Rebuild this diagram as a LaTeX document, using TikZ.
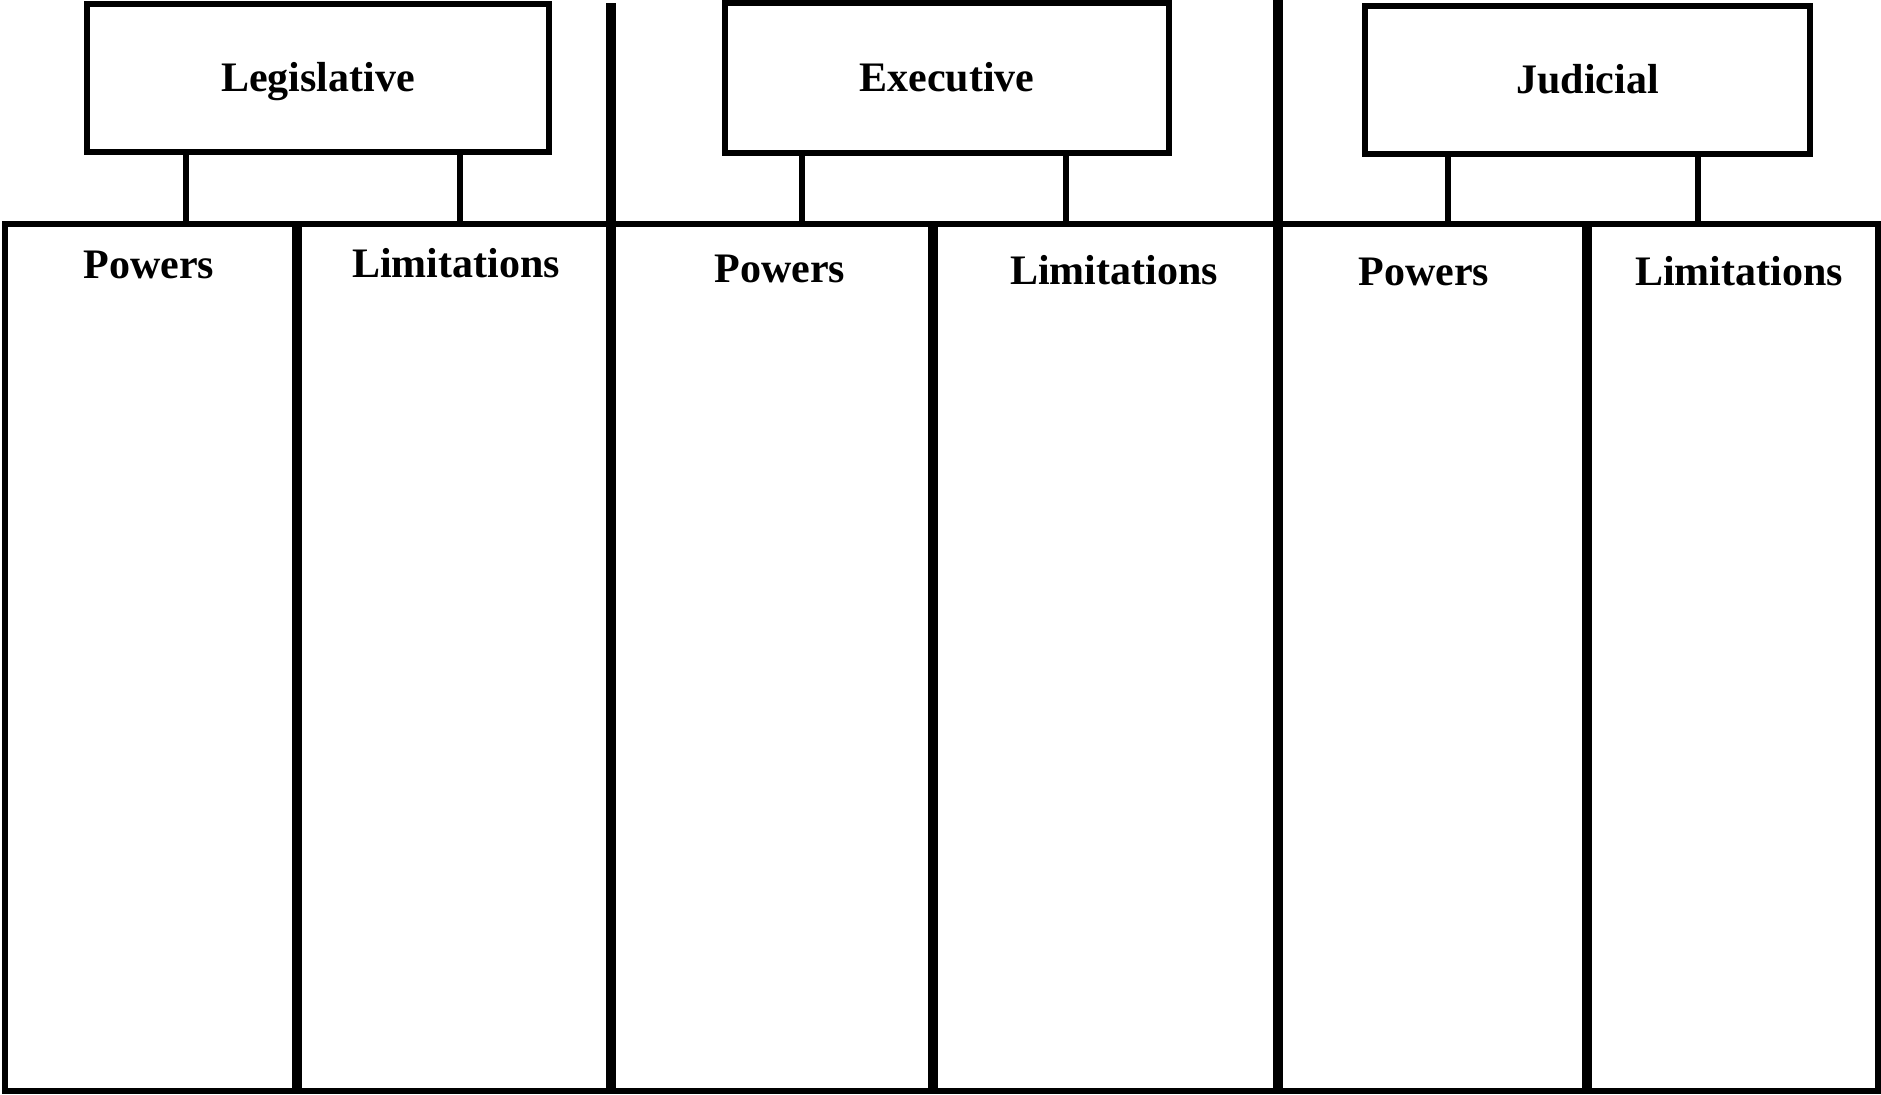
\documentclass[tikz,border=0pt]{standalone}
\usepackage{fontspec}
\setmainfont{Liberation Serif}
\begin{document}
\begin{tikzpicture}[x=0.5pt,y=-0.5pt,
  thinline/.style={line width=2.75pt},
  thickline/.style={line width=5pt},
  branch/.style={draw, thinline, rectangle, inner sep=0pt, outer sep=0pt,
    font=\fontsize{21pt}{25pt}\selectfont\bfseries, text height=13.9pt, text depth=0pt},
  cell/.style={draw, thinline, rectangle, inner sep=0pt, outer sep=0pt, anchor=north west},
  head/.style={anchor=base, inner sep=0pt, font=\fontsize{21pt}{25pt}\selectfont\bfseries}]
\useasboundingbox (0,0) rectangle (1881,1094);

% branch boxes
\node[branch, minimum width=231pt, minimum height=74pt] (leg) at (318,78) {Legislative};
\node[branch, minimum width=222pt, minimum height=75pt] (exe) at (947,78) {Executive};
\node[branch, minimum width=222.5pt, minimum height=74pt] (jud) at (1587.5,80) {Judicial};

% columns: powers and limitations for each branch
\node[cell, minimum width=146pt, minimum height=433.5pt] (lp) at (5,224) {};
\node[cell, minimum width=157pt, minimum height=433.5pt] (ll) at (297,224) {};
\node[cell, minimum width=161pt, minimum height=433.5pt] (ep) at (611,224) {};
\node[cell, minimum width=172.5pt, minimum height=433.5pt] (el) at (933,224) {};
\node[cell, minimum width=154.5pt, minimum height=433.5pt] (jp) at (1278,224) {};
\node[cell, minimum width=145.5pt, minimum height=433.5pt] (jl) at (1587,224) {};

% column headings
\node[head] (lpt) at (149,278) {Powers};
\node[head] (llt) at (456,277) {Limitations};
\node[head] (ept) at (780,282) {Powers};
\node[head] (elt) at (1114,284) {Limitations};
\node[head] (jpt) at (1424,285) {Powers};
\node[head] (jlt) at (1739,285) {Limitations};

% connectors from each branch to its two columns
\draw[thinline] (leg.south -| 186,0) -- (lp.north -| 186,0);
\draw[thinline] (leg.south -| 460,0) -- (ll.north -| 460,0);
\draw[thinline] (exe.south -| 802,0) -- (ep.north -| 802,0);
\draw[thinline] (exe.south -| 1066,0) -- (el.north -| 1066,0);
\draw[thinline] (jud.south -| 1448,0) -- (jp.north -| 1448,0);
\draw[thinline] (jud.south -| 1698,0) -- (jl.north -| 1698,0);

% heavy dividers between columns and between branches
\draw[thickline] (lp.north east) -- (lp.south east);
\draw[thickline] (ep.north east) -- (ep.south east);
\draw[thickline] (jp.north east) -- (jp.south east);
\draw[thickline] (ll.east |- 0,3) -- (ll.south east);
\draw[thickline] (el.east |- 0,0) -- (el.south east);
\end{tikzpicture}
\end{document}
